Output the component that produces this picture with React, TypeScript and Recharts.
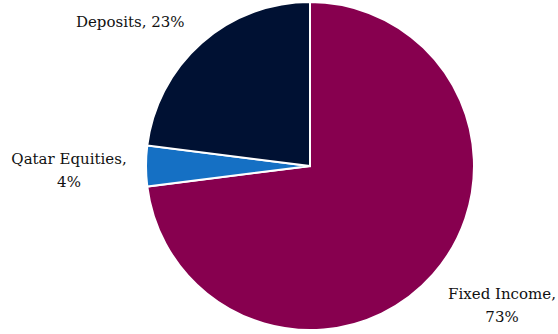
import { PieChart, Pie, Cell } from 'recharts'

const names = ['Fixed Income', 'Qatar Equities', 'Deposits']
const shares = [73, 4, 23]
const colors = ['#87004f', '#1570c4', '#001133']

// label text lines and nudges off the radial anchor
const labelLines: Record<string, string[]> = {
  'Fixed Income': ['Fixed Income,', '73%'],
  'Qatar Equities': ['Qatar Equities,', '4%'],
  'Deposits': ['Deposits, 23%'],
}
const labelNudge: Record<string, [number, number]> = {
  'Fixed Income': [12, -19],
  'Qatar Equities': [-1, 4],
  'Deposits': [-21, 36],
}

const data = names.map((n, i) => ({ name: n, value: shares[i] }))

const RAD = Math.PI / 180

function renderLabel(props: any) {
  const { cx, cy, midAngle, name } = props
  const r = 240
  const [dx, dy] = labelNudge[name]
  const x = cx + r * Math.cos(-midAngle * RAD) + dx
  const y = cy + r * Math.sin(-midAngle * RAD) + dy
  const lines = labelLines[name]
  const lh = 23
  const top = y - ((lines.length - 1) * lh) / 2
  return (
    <text
      x={x}
      y={top}
      textAnchor="middle"
      dominantBaseline="central"
      fill="#111111"
      fontSize={15}
      fontFamily="'DejaVu Serif', serif"
    >
      {lines.map((l, i) => (
        <tspan key={i} x={x} y={top + i * lh}>
          {l}
        </tspan>
      ))}
    </text>
  )
}

export default function App() {
  return (
    <div style={{ position: 'fixed', left: 0, top: 0, width: 558, height: 334, background: '#fff' }}>
      <PieChart width={558} height={334} margin={{ top: 0, right: 0, bottom: 0, left: 0 }}>
        <Pie
          data={data}
          dataKey="value"
          nameKey="name"
          cx={310}
          cy={166}
          outerRadius={164}
          startAngle={90}
          endAngle={-270}
          stroke="#ffffff"
          strokeWidth={2}
          label={renderLabel}
          labelLine={false}
          isAnimationActive={false}
        >
          {data.map((d, i) => (
            <Cell key={d.name} fill={colors[i]} />
          ))}
        </Pie>
      </PieChart>
    </div>
  )
}
